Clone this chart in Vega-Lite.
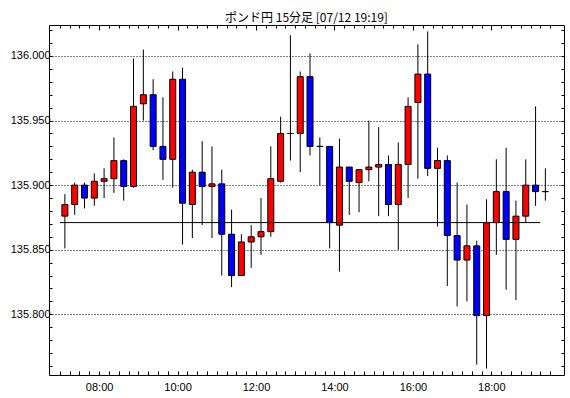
{
  "$schema": "https://vega.github.io/schema/vega-lite/v6.json",
  "width": 515,
  "height": 350,
  "autosize": {"type": "none"},
  "padding": {"left": 49, "top": 25, "right": 6, "bottom": 23},
  "background": "white",
  "title": {"text": "ポンド円 15分足 [07/12 19:19]", "font": "Noto Sans CJK JP", "fontSize": 12, "fontWeight": "normal", "color": "black", "offset": 2, "dy": 3},
  "config": {
    "view": {"stroke": "black", "strokeWidth": 1},
    "axis": {"domain": false, "labelFont": "Liberation Sans", "labelFontSize": 11, "labelColor": "black", "tickColor": "black", "tickWidth": 1, "title": null, "grid": false}
  },
  "resolve": {"axis": {"x": "independent", "y": "independent"}},
  "data": {"values": [
    {"t": "2024-07-12T07:00:00", "open": 135.876, "high": 135.893, "low": 135.851, "close": 135.885},
    {"t": "2024-07-12T07:15:00", "open": 135.885, "high": 135.902, "low": 135.877, "close": 135.900},
    {"t": "2024-07-12T07:30:00", "open": 135.900, "high": 135.902, "low": 135.882, "close": 135.890},
    {"t": "2024-07-12T07:45:00", "open": 135.890, "high": 135.909, "low": 135.884, "close": 135.903},
    {"t": "2024-07-12T08:00:00", "open": 135.903, "high": 135.913, "low": 135.890, "close": 135.905},
    {"t": "2024-07-12T08:15:00", "open": 135.905, "high": 135.937, "low": 135.894, "close": 135.919},
    {"t": "2024-07-12T08:30:00", "open": 135.919, "high": 135.920, "low": 135.888, "close": 135.899},
    {"t": "2024-07-12T08:45:00", "open": 135.899, "high": 135.998, "low": 135.898, "close": 135.961},
    {"t": "2024-07-12T09:00:00", "open": 135.963, "high": 136.005, "low": 135.950, "close": 135.970},
    {"t": "2024-07-12T09:15:00", "open": 135.970, "high": 135.982, "low": 135.927, "close": 135.930},
    {"t": "2024-07-12T09:30:00", "open": 135.930, "high": 135.968, "low": 135.904, "close": 135.920},
    {"t": "2024-07-12T09:45:00", "open": 135.920, "high": 135.988, "low": 135.898, "close": 135.982},
    {"t": "2024-07-12T10:00:00", "open": 135.982, "high": 135.991, "low": 135.854, "close": 135.886},
    {"t": "2024-07-12T10:15:00", "open": 135.885, "high": 135.912, "low": 135.859, "close": 135.910},
    {"t": "2024-07-12T10:30:00", "open": 135.910, "high": 135.934, "low": 135.869, "close": 135.899},
    {"t": "2024-07-12T10:45:00", "open": 135.899, "high": 135.930, "low": 135.859, "close": 135.901},
    {"t": "2024-07-12T11:00:00", "open": 135.901, "high": 135.912, "low": 135.830, "close": 135.862},
    {"t": "2024-07-12T11:15:00", "open": 135.862, "high": 135.881, "low": 135.821, "close": 135.830},
    {"t": "2024-07-12T11:30:00", "open": 135.830, "high": 135.862, "low": 135.830, "close": 135.856},
    {"t": "2024-07-12T11:45:00", "open": 135.856, "high": 135.869, "low": 135.836, "close": 135.860},
    {"t": "2024-07-12T12:00:00", "open": 135.860, "high": 135.890, "low": 135.846, "close": 135.864},
    {"t": "2024-07-12T12:15:00", "open": 135.864, "high": 135.930, "low": 135.860, "close": 135.905},
    {"t": "2024-07-12T12:30:00", "open": 135.903, "high": 135.953, "low": 135.902, "close": 135.940},
    {"t": "2024-07-12T12:45:00", "open": 135.940, "high": 136.016, "low": 135.919, "close": 135.940},
    {"t": "2024-07-12T13:00:00", "open": 135.940, "high": 135.988, "low": 135.910, "close": 135.984},
    {"t": "2024-07-12T13:15:00", "open": 135.984, "high": 136.002, "low": 135.923, "close": 135.930},
    {"t": "2024-07-12T13:30:00", "open": 135.930, "high": 135.937, "low": 135.900, "close": 135.930},
    {"t": "2024-07-12T13:45:00", "open": 135.930, "high": 135.930, "low": 135.851, "close": 135.871},
    {"t": "2024-07-12T14:00:00", "open": 135.869, "high": 135.936, "low": 135.833, "close": 135.914},
    {"t": "2024-07-12T14:15:00", "open": 135.914, "high": 135.914, "low": 135.877, "close": 135.903},
    {"t": "2024-07-12T14:30:00", "open": 135.902, "high": 135.912, "low": 135.879, "close": 135.912},
    {"t": "2024-07-12T14:45:00", "open": 135.912, "high": 135.950, "low": 135.903, "close": 135.914},
    {"t": "2024-07-12T15:00:00", "open": 135.914, "high": 135.945, "low": 135.876, "close": 135.916},
    {"t": "2024-07-12T15:15:00", "open": 135.916, "high": 135.923, "low": 135.876, "close": 135.885},
    {"t": "2024-07-12T15:30:00", "open": 135.885, "high": 135.933, "low": 135.850, "close": 135.916},
    {"t": "2024-07-12T15:45:00", "open": 135.916, "high": 135.968, "low": 135.890, "close": 135.961},
    {"t": "2024-07-12T16:00:00", "open": 135.964, "high": 136.009, "low": 135.905, "close": 135.986},
    {"t": "2024-07-12T16:15:00", "open": 135.986, "high": 136.019, "low": 135.907, "close": 135.913},
    {"t": "2024-07-12T16:30:00", "open": 135.913, "high": 135.929, "low": 135.868, "close": 135.919},
    {"t": "2024-07-12T16:45:00", "open": 135.919, "high": 135.923, "low": 135.822, "close": 135.861},
    {"t": "2024-07-12T17:00:00", "open": 135.861, "high": 135.902, "low": 135.806, "close": 135.842},
    {"t": "2024-07-12T17:15:00", "open": 135.842, "high": 135.885, "low": 135.810, "close": 135.853},
    {"t": "2024-07-12T17:30:00", "open": 135.853, "high": 135.857, "low": 135.761, "close": 135.799},
    {"t": "2024-07-12T17:45:00", "open": 135.799, "high": 135.889, "low": 135.758, "close": 135.871},
    {"t": "2024-07-12T18:00:00", "open": 135.871, "high": 135.920, "low": 135.846, "close": 135.895},
    {"t": "2024-07-12T18:15:00", "open": 135.895, "high": 135.929, "low": 135.819, "close": 135.858},
    {"t": "2024-07-12T18:30:00", "open": 135.858, "high": 135.888, "low": 135.811, "close": 135.876},
    {"t": "2024-07-12T18:45:00", "open": 135.876, "high": 135.920, "low": 135.871, "close": 135.900},
    {"t": "2024-07-12T19:00:00", "open": 135.900, "high": 135.961, "low": 135.884, "close": 135.895},
    {"t": "2024-07-12T19:15:00", "open": 135.895, "high": 135.913, "low": 135.888, "close": 135.895}
  ]},
  "layer": [
    {
      "mark": {"type": "rule", "color": "black", "strokeWidth": 1, "xOffset": 5},
      "encoding": {
        "x": {"field": "t", "type": "temporal",
          "scale": {"domain": [{"year": 2024, "month": 7, "date": 12, "hours": 6, "minutes": 51}, {"year": 2024, "month": 7, "date": 12, "hours": 19, "minutes": 43, "seconds": 30}]},
          "axis": {"orient": "bottom",
            "values": [
              {"year": 2024, "month": 7, "date": 12, "hours": 7, "minutes": 0}, {"year": 2024, "month": 7, "date": 12, "hours": 7, "minutes": 15}, {"year": 2024, "month": 7, "date": 12, "hours": 7, "minutes": 30}, {"year": 2024, "month": 7, "date": 12, "hours": 7, "minutes": 45},
              {"year": 2024, "month": 7, "date": 12, "hours": 8, "minutes": 0}, {"year": 2024, "month": 7, "date": 12, "hours": 8, "minutes": 15}, {"year": 2024, "month": 7, "date": 12, "hours": 8, "minutes": 30}, {"year": 2024, "month": 7, "date": 12, "hours": 8, "minutes": 45},
              {"year": 2024, "month": 7, "date": 12, "hours": 9, "minutes": 0}, {"year": 2024, "month": 7, "date": 12, "hours": 9, "minutes": 15}, {"year": 2024, "month": 7, "date": 12, "hours": 9, "minutes": 30}, {"year": 2024, "month": 7, "date": 12, "hours": 9, "minutes": 45},
              {"year": 2024, "month": 7, "date": 12, "hours": 10, "minutes": 0}, {"year": 2024, "month": 7, "date": 12, "hours": 10, "minutes": 15}, {"year": 2024, "month": 7, "date": 12, "hours": 10, "minutes": 30}, {"year": 2024, "month": 7, "date": 12, "hours": 10, "minutes": 45},
              {"year": 2024, "month": 7, "date": 12, "hours": 11, "minutes": 0}, {"year": 2024, "month": 7, "date": 12, "hours": 11, "minutes": 15}, {"year": 2024, "month": 7, "date": 12, "hours": 11, "minutes": 30}, {"year": 2024, "month": 7, "date": 12, "hours": 11, "minutes": 45},
              {"year": 2024, "month": 7, "date": 12, "hours": 12, "minutes": 0}, {"year": 2024, "month": 7, "date": 12, "hours": 12, "minutes": 15}, {"year": 2024, "month": 7, "date": 12, "hours": 12, "minutes": 30}, {"year": 2024, "month": 7, "date": 12, "hours": 12, "minutes": 45},
              {"year": 2024, "month": 7, "date": 12, "hours": 13, "minutes": 0}, {"year": 2024, "month": 7, "date": 12, "hours": 13, "minutes": 15}, {"year": 2024, "month": 7, "date": 12, "hours": 13, "minutes": 30}, {"year": 2024, "month": 7, "date": 12, "hours": 13, "minutes": 45},
              {"year": 2024, "month": 7, "date": 12, "hours": 14, "minutes": 0}, {"year": 2024, "month": 7, "date": 12, "hours": 14, "minutes": 15}, {"year": 2024, "month": 7, "date": 12, "hours": 14, "minutes": 30}, {"year": 2024, "month": 7, "date": 12, "hours": 14, "minutes": 45},
              {"year": 2024, "month": 7, "date": 12, "hours": 15, "minutes": 0}, {"year": 2024, "month": 7, "date": 12, "hours": 15, "minutes": 15}, {"year": 2024, "month": 7, "date": 12, "hours": 15, "minutes": 30}, {"year": 2024, "month": 7, "date": 12, "hours": 15, "minutes": 45},
              {"year": 2024, "month": 7, "date": 12, "hours": 16, "minutes": 0}, {"year": 2024, "month": 7, "date": 12, "hours": 16, "minutes": 15}, {"year": 2024, "month": 7, "date": 12, "hours": 16, "minutes": 30}, {"year": 2024, "month": 7, "date": 12, "hours": 16, "minutes": 45},
              {"year": 2024, "month": 7, "date": 12, "hours": 17, "minutes": 0}, {"year": 2024, "month": 7, "date": 12, "hours": 17, "minutes": 15}, {"year": 2024, "month": 7, "date": 12, "hours": 17, "minutes": 30}, {"year": 2024, "month": 7, "date": 12, "hours": 17, "minutes": 45},
              {"year": 2024, "month": 7, "date": 12, "hours": 18, "minutes": 0}, {"year": 2024, "month": 7, "date": 12, "hours": 18, "minutes": 15}, {"year": 2024, "month": 7, "date": 12, "hours": 18, "minutes": 30}, {"year": 2024, "month": 7, "date": 12, "hours": 18, "minutes": 45},
              {"year": 2024, "month": 7, "date": 12, "hours": 19, "minutes": 0}, {"year": 2024, "month": 7, "date": 12, "hours": 19, "minutes": 15}, {"year": 2024, "month": 7, "date": 12, "hours": 19, "minutes": 30}
            ],
            "labelExpr": "(hours(datum.value) % 2 == 0 && minutes(datum.value) == 0) ? timeFormat(datum.value, '%H:%M') : ''",
            "tickSize": -4,
            "labelPadding": 10, "labelFlush": false, "labelOverlap": false}},
        "y": {"field": "low", "type": "quantitative", "scale": {"domain": [135.753, 136.024], "zero": false, "nice": false},
          "axis": {"orient": "left",
            "values": [135.76, 135.77, 135.78, 135.79, 135.8, 135.81, 135.82, 135.83, 135.84, 135.85, 135.86, 135.87, 135.88, 135.89, 135.9, 135.91, 135.92, 135.93, 135.94, 135.95, 135.96, 135.97, 135.98, 135.99, 136.0, 136.01, 136.02],
            "labelExpr": "abs(datum.value * 20 - round(datum.value * 20)) < 0.001 ? format(datum.value, '.3f') : ''",
            "tickSize": -3, "labelPadding": 2, "labelOverlap": false,
            "grid": true, "gridColor": "black", "gridDash": [1, 2], "gridWidth": 1,
            "gridOpacity": {"condition": {"test": "abs(datum.value * 20 - round(datum.value * 20)) < 0.001", "value": 1}, "value": 0}}},
        "y2": {"field": "high"}
      }
    },
    {
      "mark": {"type": "bar", "width": 6, "stroke": "black", "strokeWidth": 1, "xOffset": 5},
      "encoding": {
        "x": {"field": "t", "type": "temporal",
          "axis": {"orient": "top", "labels": false,
            "values": [
              {"year": 2024, "month": 7, "date": 12, "hours": 7, "minutes": 0}, {"year": 2024, "month": 7, "date": 12, "hours": 7, "minutes": 15}, {"year": 2024, "month": 7, "date": 12, "hours": 7, "minutes": 30}, {"year": 2024, "month": 7, "date": 12, "hours": 7, "minutes": 45},
              {"year": 2024, "month": 7, "date": 12, "hours": 8, "minutes": 0}, {"year": 2024, "month": 7, "date": 12, "hours": 8, "minutes": 15}, {"year": 2024, "month": 7, "date": 12, "hours": 8, "minutes": 30}, {"year": 2024, "month": 7, "date": 12, "hours": 8, "minutes": 45},
              {"year": 2024, "month": 7, "date": 12, "hours": 9, "minutes": 0}, {"year": 2024, "month": 7, "date": 12, "hours": 9, "minutes": 15}, {"year": 2024, "month": 7, "date": 12, "hours": 9, "minutes": 30}, {"year": 2024, "month": 7, "date": 12, "hours": 9, "minutes": 45},
              {"year": 2024, "month": 7, "date": 12, "hours": 10, "minutes": 0}, {"year": 2024, "month": 7, "date": 12, "hours": 10, "minutes": 15}, {"year": 2024, "month": 7, "date": 12, "hours": 10, "minutes": 30}, {"year": 2024, "month": 7, "date": 12, "hours": 10, "minutes": 45},
              {"year": 2024, "month": 7, "date": 12, "hours": 11, "minutes": 0}, {"year": 2024, "month": 7, "date": 12, "hours": 11, "minutes": 15}, {"year": 2024, "month": 7, "date": 12, "hours": 11, "minutes": 30}, {"year": 2024, "month": 7, "date": 12, "hours": 11, "minutes": 45},
              {"year": 2024, "month": 7, "date": 12, "hours": 12, "minutes": 0}, {"year": 2024, "month": 7, "date": 12, "hours": 12, "minutes": 15}, {"year": 2024, "month": 7, "date": 12, "hours": 12, "minutes": 30}, {"year": 2024, "month": 7, "date": 12, "hours": 12, "minutes": 45},
              {"year": 2024, "month": 7, "date": 12, "hours": 13, "minutes": 0}, {"year": 2024, "month": 7, "date": 12, "hours": 13, "minutes": 15}, {"year": 2024, "month": 7, "date": 12, "hours": 13, "minutes": 30}, {"year": 2024, "month": 7, "date": 12, "hours": 13, "minutes": 45},
              {"year": 2024, "month": 7, "date": 12, "hours": 14, "minutes": 0}, {"year": 2024, "month": 7, "date": 12, "hours": 14, "minutes": 15}, {"year": 2024, "month": 7, "date": 12, "hours": 14, "minutes": 30}, {"year": 2024, "month": 7, "date": 12, "hours": 14, "minutes": 45},
              {"year": 2024, "month": 7, "date": 12, "hours": 15, "minutes": 0}, {"year": 2024, "month": 7, "date": 12, "hours": 15, "minutes": 15}, {"year": 2024, "month": 7, "date": 12, "hours": 15, "minutes": 30}, {"year": 2024, "month": 7, "date": 12, "hours": 15, "minutes": 45},
              {"year": 2024, "month": 7, "date": 12, "hours": 16, "minutes": 0}, {"year": 2024, "month": 7, "date": 12, "hours": 16, "minutes": 15}, {"year": 2024, "month": 7, "date": 12, "hours": 16, "minutes": 30}, {"year": 2024, "month": 7, "date": 12, "hours": 16, "minutes": 45},
              {"year": 2024, "month": 7, "date": 12, "hours": 17, "minutes": 0}, {"year": 2024, "month": 7, "date": 12, "hours": 17, "minutes": 15}, {"year": 2024, "month": 7, "date": 12, "hours": 17, "minutes": 30}, {"year": 2024, "month": 7, "date": 12, "hours": 17, "minutes": 45},
              {"year": 2024, "month": 7, "date": 12, "hours": 18, "minutes": 0}, {"year": 2024, "month": 7, "date": 12, "hours": 18, "minutes": 15}, {"year": 2024, "month": 7, "date": 12, "hours": 18, "minutes": 30}, {"year": 2024, "month": 7, "date": 12, "hours": 18, "minutes": 45},
              {"year": 2024, "month": 7, "date": 12, "hours": 19, "minutes": 0}, {"year": 2024, "month": 7, "date": 12, "hours": 19, "minutes": 15}, {"year": 2024, "month": 7, "date": 12, "hours": 19, "minutes": 30}
            ],
            "tickSize": {"condition": {"test": "hours(datum.value) % 2 == 0 && minutes(datum.value) == 0", "value": -5}, "value": -3}}},
        "y": {"field": "open", "type": "quantitative",
          "axis": {"orient": "right", "labels": false, "tickSize": -3,
            "values": [135.76, 135.77, 135.78, 135.79, 135.8, 135.81, 135.82, 135.83, 135.84, 135.85, 135.86, 135.87, 135.88, 135.89, 135.9, 135.91, 135.92, 135.93, 135.94, 135.95, 135.96, 135.97, 135.98, 135.99, 136.0, 136.01, 136.02]}},
        "y2": {"field": "close"},
        "color": {"condition": {"test": "datum.close >= datum.open", "value": "#ff0000"}, "value": "#0000ff"}
      }
    },
    {
      "data": {"values": [{"start": "2024-07-12T07:00:00", "end": "2024-07-12T19:15:00", "level": 135.871}]},
      "mark": {"type": "rule", "color": "black", "strokeWidth": 1},
      "encoding": {
        "x": {"field": "start", "type": "temporal", "axis": null},
        "x2": {"field": "end"},
        "y": {"field": "level", "type": "quantitative", "axis": null}
      }
    }
  ]
}
